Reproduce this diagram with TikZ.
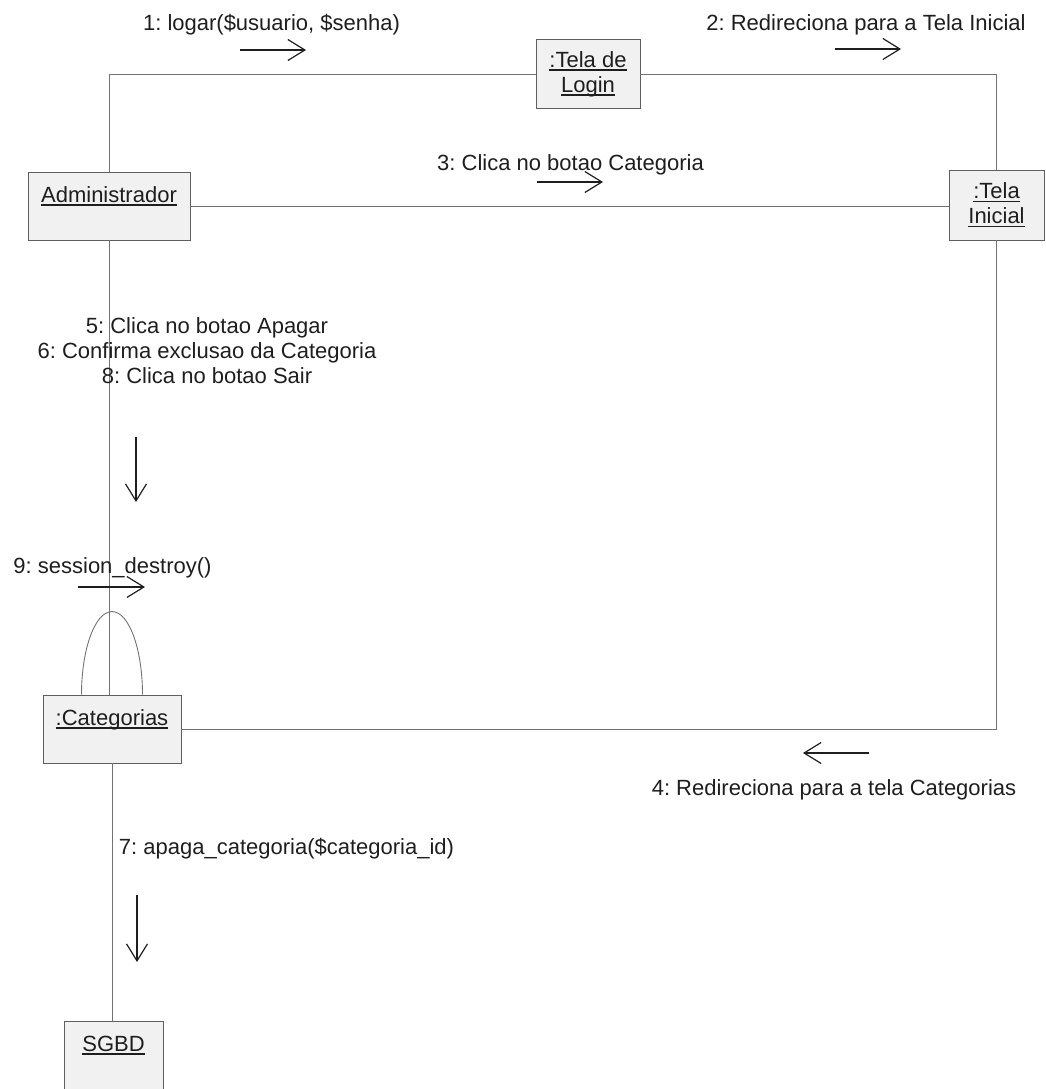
\documentclass[tikz,border=0pt]{standalone}
\usepackage{fontspec}
\setmainfont{Liberation Sans}
\usetikzlibrary{arrows.meta}
\definecolor{boxfill}{RGB}{241,241,241}
\definecolor{boxline}{RGB}{95,95,95}
\definecolor{wire}{RGB}{115,115,115}
\definecolor{ink}{RGB}{30,30,30}
\newcommand\ulname[1]{\setbox0\hbox{#1}\rlap{\rule[-4pt]{\wd0}{1.8pt}}\box0}
\frenchspacing
\begin{document}
\begin{tikzpicture}[x=1pt,y=-1pt,font=\fontsize{22}{25}\selectfont,text=ink,
 object/.style={draw=boxline,fill=boxfill,line width=.9pt,inner sep=0pt,align=center},
 oneline/.style={object,text height=30pt,text depth=38pt},
 twoline/.style={object,minimum height=69pt},
 link/.style={draw=wire,line width=.9pt},
 msg/.style={-{Straight Barb[length=17pt,width=21pt]},line width=1.2pt,draw=ink},
 msgtext/.style={anchor=base,align=center,inner sep=0pt}]
\useasboundingbox (0,0) rectangle (1045,1089);
\node[oneline,minimum width=162pt] (adm) at (109,206) {\ulname{Administrador}};
\node[twoline,minimum width=104pt] (login) at (588,74) {\ulname{:Tela de}\\\ulname{Login}};
\node[twoline,minimum width=95pt,minimum height=70pt] (ini) at (996.5,205) {\ulname{:Tela}\\\ulname{Inicial}};
\node[oneline,minimum width=138pt] (cat) at (112,729) {\ulname{:Categorias}};
\node[oneline,minimum width=99pt] (sgbd) at (113.5,1055) {\ulname{SGBD}};
% links between the objects
\draw[link] (adm.north) |- (login.west);
\draw[link] (login.east) -| (ini.north);
\draw[link] (adm.east) -- (adm.east -| ini.west);
\draw[link] (ini.south) |- (cat.east);
\draw[link] (adm.south) -- (adm.south |- cat.north);
\draw[link] (cat.south) -- (cat.south |- sgbd.north);
\draw[link] ([xshift=-30.5pt]cat.north) arc[start angle=180,end angle=0,x radius=30.5pt,y radius=83pt];
% messages
\node[msgtext] (t1) at (271.5,31) {1: logar(\$usuario, \$senha)};
\node[msgtext] (t2) at (866,31) {2: Redireciona para a Tela Inicial};
\node[msgtext] (t3) at (570.5,170) {3: Clica no botao Categoria};
\node[msgtext] (t4) at (834,795) {4: Redireciona para a tela Categorias};
\node[msgtext] (t5) at (207,383) {5: Clica no botao Apagar\\6: Confirma exclusao da Categoria\\8: Clica no botao Sair};
\node[msgtext] (t9) at (112.5,573) {9: session\_destroy()};
\node[msgtext] (t7) at (286.5,854) {7: apaga\_categoria(\$categoria\_id)};
\coordinate (a1) at (240,50); \coordinate (b1) at (306,50);
\coordinate (a2) at (835,49); \coordinate (b2) at (901,49);
\coordinate (a3) at (537,182); \coordinate (b3) at (603,182);
\coordinate (a4) at (869,753); \coordinate (b4) at (803,753);
\coordinate (a5) at (136,437); \coordinate (b5) at (136,502);
\coordinate (a9) at (78,587); \coordinate (b9) at (145,587);
\coordinate (a7) at (137,895); \coordinate (b7) at (137,962);
\draw[msg] (a1) -- (b1);
\draw[msg] (a2) -- (b2);
\draw[msg] (a3) -- (b3);
\draw[msg] (a4) -- (b4);
\draw[msg] (a5) -- (b5);
\draw[msg] (a9) -- (b9);
\draw[msg] (a7) -- (b7);
\end{tikzpicture}
\end{document}
